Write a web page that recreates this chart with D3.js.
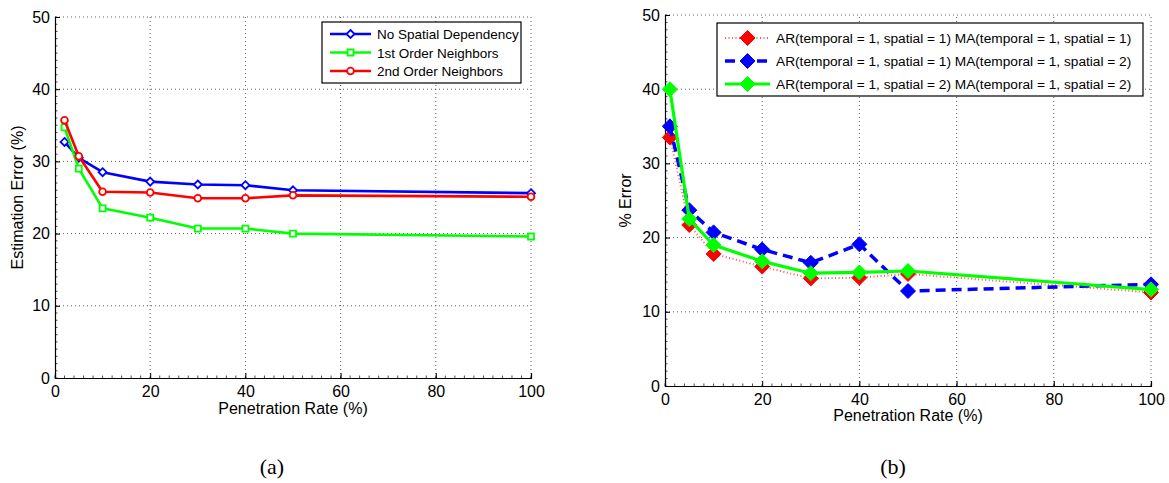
<!DOCTYPE html>
<html>
<head>
<meta charset="utf-8">
<script src="https://cdn.jsdelivr.net/npm/d3@7"></script>
<style>
  body { margin: 0; background: #fff; }
  text { font-family: "Liberation Sans", Arial, sans-serif; }
</style>
</head>
<body>
<script>
// ---- data ----
var rateA = [2, 5, 10, 20, 30, 40, 50, 100];
var noSpatial = [32.7, 30.5, 28.5, 27.2, 26.8, 26.7, 26.0, 25.6];
var firstOrder = [34.7, 29.0, 23.5, 22.2, 20.7, 20.7, 20.0, 19.6];
var secondOrder = [35.7, 30.7, 25.8, 25.7, 24.9, 24.9, 25.3, 25.1];

var rateB = [1, 5, 10, 20, 30, 40, 50, 100];
var ar11ma11 = [33.5, 21.7, 17.8, 16.1, 14.5, 14.6, 15.1, 12.6];
var ar11ma12 = [35.0, 23.7, 20.7, 18.4, 16.6, 19.1, 12.8, 13.7];
var ar12ma12 = [40.0, 22.5, 19.0, 16.8, 15.2, 15.3, 15.5, 13.0];

var xTicks = [0, 20, 40, 60, 80, 100];
var yTicks = [0, 10, 20, 30, 40, 50];

var width = 1169, height = 483;
var svg = d3.select("body").append("svg")
    .attr("width", width)
    .attr("height", height);

function diamondPath(r) {
    return d3.line()([[0, -r], [r, 0], [0, r], [-r, 0]]) + "Z";
}

function drawPanel(opt) {
    var x = d3.scaleLinear().domain([0, 100]).range(opt.xr);
    var y = d3.scaleLinear().domain([0, 50]).range(opt.yr);
    var g = svg.append("g");

    // grid
    g.selectAll(".gx").data(xTicks.slice(1)).enter().append("line")
        .attr("x1", function(d) { return x(d); }).attr("x2", function(d) { return x(d); })
        .attr("y1", y(0)).attr("y2", y(50))
        .attr("stroke", "#333").attr("stroke-width", 0.8).attr("stroke-dasharray", "1,3");
    g.selectAll(".gy").data(yTicks.slice(1)).enter().append("line")
        .attr("x1", x(0)).attr("x2", x(100))
        .attr("y1", function(d) { return y(d); }).attr("y2", function(d) { return y(d); })
        .attr("stroke", "#333").attr("stroke-width", 0.8).attr("stroke-dasharray", "1,3");

    // axes
    var xAxis = d3.axisBottom(x).tickValues(xTicks).tickSize(-5).tickPadding(8);
    var yAxis = d3.axisLeft(y).tickValues(yTicks).tickSize(-5).tickPadding(5);
    var gx = g.append("g").attr("transform", "translate(0," + y(0) + ")").call(xAxis);
    var gy = g.append("g").attr("transform", "translate(" + x(0) + ",0)").call(yAxis);
    [gx, gy].forEach(function(a) {
        a.select(".domain").attr("stroke", "#000").attr("stroke-width", 1.2);
        a.selectAll("text").attr("font-size", 16).attr("fill", "#000")
            .style("font-family", "'Liberation Sans', Arial, sans-serif");
        a.selectAll("line").attr("stroke", "#000");
    });
    // minor ticks
    g.selectAll(".mx").data(d3.range(0, 101, 2)).enter().append("line")
        .attr("x1", function(d) { return x(d); }).attr("x2", function(d) { return x(d); })
        .attr("y1", y(0)).attr("y2", y(0) - 2.5).attr("stroke", "#000").attr("stroke-width", 0.7);
    g.selectAll(".my").data(d3.range(0, 51, 1)).enter().append("line")
        .attr("x1", x(0)).attr("x2", x(0) + 2.5)
        .attr("y1", function(d) { return y(d); }).attr("y2", function(d) { return y(d); })
        .attr("stroke", "#000").attr("stroke-width", 0.7);

    // axis labels
    g.append("text").attr("x", (x(0) + x(100)) / 2).attr("y", opt.xLabelY)
        .attr("text-anchor", "middle").attr("font-size", 16).text("Penetration Rate (%)");
    g.append("text").attr("transform", "translate(" + opt.yLabelX + "," + (y(0) + y(50)) / 2 + ") rotate(-90)")
        .attr("text-anchor", "middle").attr("font-size", 16).text(opt.yLabel);

    // series
    opt.series.forEach(function(s) {
        var pts = opt.rates.map(function(r, i) { return [r, s.values[i]]; });
        var line = d3.line().x(function(d) { return x(d[0]); }).y(function(d) { return y(d[1]); });
        g.append("path").datum(pts).attr("d", line)
            .attr("fill", "none").attr("stroke", s.lineColor || s.color)
            .attr("stroke-width", s.width).attr("stroke-dasharray", s.dash || null)
            .attr("stroke-linejoin", "round");
        g.selectAll(null).data(pts).enter().append("path")
            .attr("transform", function(d) { return "translate(" + x(d[0]) + "," + y(d[1]) + ")"; })
            .attr("d", s.marker)
            .attr("fill", s.fill).attr("stroke", s.color).attr("stroke-width", s.mw);
    });

    // legend
    var L = opt.legend;
    g.append("rect").attr("x", L.x).attr("y", L.y).attr("width", L.w).attr("height", L.h)
        .attr("fill", "#fff").attr("stroke", "#000").attr("stroke-width", 1.2);
    opt.series.forEach(function(s, i) {
        var ly = L.y + L.first + i * L.step;
        g.append("line").attr("x1", L.x + 8).attr("x2", L.x + 8 + L.lineLen)
            .attr("y1", ly).attr("y2", ly)
            .attr("stroke", s.lineColor || s.color).attr("stroke-width", s.width)
            .attr("stroke-dasharray", s.dash || null);
        g.append("path").attr("transform", "translate(" + (L.x + 8 + L.lineLen / 2) + "," + ly + ")")
            .attr("d", s.marker).attr("fill", s.fill).attr("stroke", s.color).attr("stroke-width", s.mw);
        g.append("text").attr("x", L.x + 14 + L.lineLen).attr("y", ly + 5)
            .attr("font-size", L.fs).text(s.name);
    });

    // caption
    svg.append("text").attr("x", opt.capX).attr("y", 474).attr("text-anchor", "middle")
        .attr("font-size", 22).style("font-family", "'Liberation Serif', 'DejaVu Serif', serif")
        .text(opt.caption);
}

drawPanel({
    xr: [55, 531], yr: [378, 17], rates: rateA,
    xLabelY: 414, yLabelX: 23, yLabel: "Estimation Error (%)",
    caption: "(a)", capX: 272,
    series: [
        { name: "No Spatial Dependency", values: noSpatial, color: "#0000ff", width: 2.6,
          marker: diamondPath(4), fill: "#fff", mw: 1.8 },
        { name: "1st Order Neighbors", values: firstOrder, color: "#00ff00", width: 2.6,
          marker: d3.symbol().type(d3.symbolSquare).size(36)(), fill: "#fff", mw: 1.8 },
        { name: "2nd Order Neighbors", values: secondOrder, color: "#ff0000", width: 2.6,
          marker: d3.symbol().type(d3.symbolCircle).size(36)(), fill: "#fff", mw: 1.8 }
    ],
    legend: { x: 322, y: 22, w: 199, h: 61, first: 12, step: 18.5, lineLen: 41, fs: 13.5 }
});

drawPanel({
    xr: [665, 1151], yr: [386, 15], rates: rateB,
    xLabelY: 421, yLabelX: 631, yLabel: "% Error",
    caption: "(b)", capX: 893,
    series: [
        { name: "AR(temporal = 1, spatial = 1) MA(temporal = 1, spatial = 1)", values: ar11ma11,
          color: "#ff0000", lineColor: "#ff5555", width: 2, dash: "1,2.5",
          marker: diamondPath(7.5), fill: "#ff0000", mw: 1 },
        { name: "AR(temporal = 1, spatial = 1) MA(temporal = 1, spatial = 2)", values: ar11ma12,
          color: "#0000ff", width: 3.5, dash: "10,6",
          marker: diamondPath(7.5), fill: "#0000ff", mw: 1 },
        { name: "AR(temporal = 1, spatial = 2) MA(temporal = 1, spatial = 2)", values: ar12ma12,
          color: "#00ff00", width: 3.2,
          marker: diamondPath(7.5), fill: "#00ff00", mw: 1 }
    ],
    legend: { x: 717, y: 23, w: 426, h: 73, first: 15, step: 23, lineLen: 45, fs: 13.7 }
});
</script>
</body>
</html>
